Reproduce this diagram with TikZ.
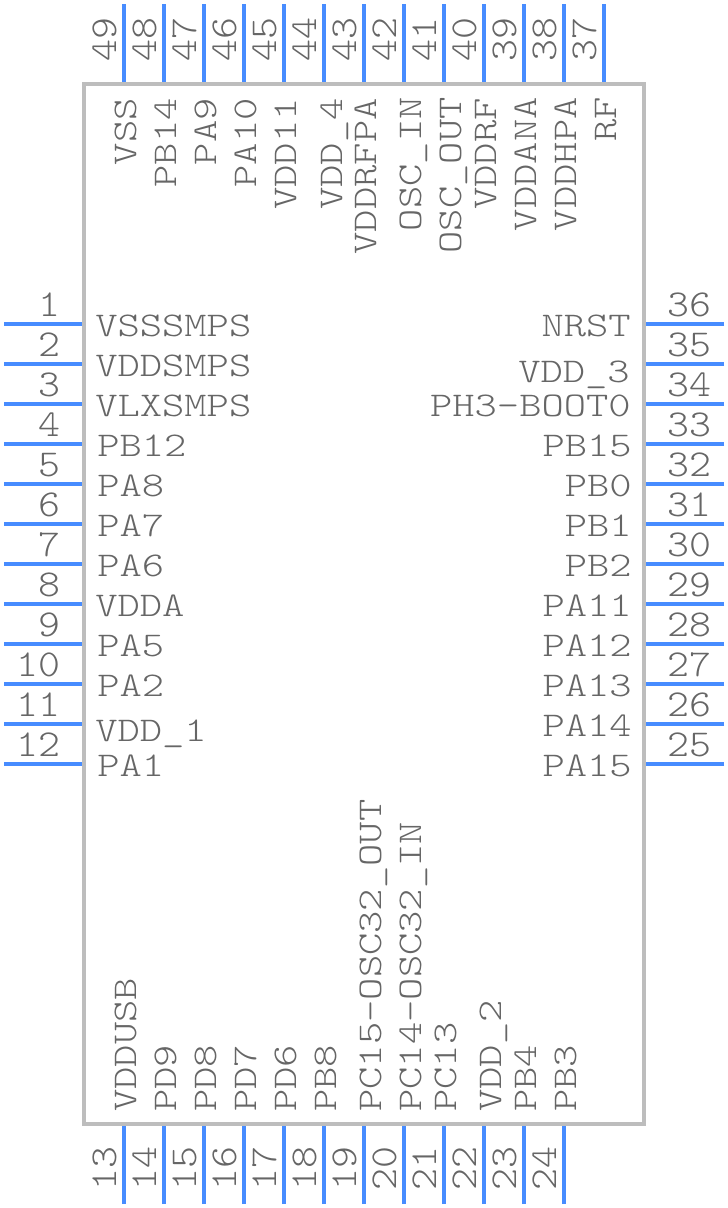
\documentclass[tikz,border=0pt]{standalone}
\usepackage{fontspec}
\newfontfamily\pinfont[FakeStretch=1.225]{Latin Modern Mono Light}
\newfontfamily\numfont[FakeStretch=1.10]{Latin Modern Mono Light}
\definecolor{pinblue}{HTML}{478CFF}
\definecolor{bodygray}{HTML}{BDBDBD}
\definecolor{textgray}{HTML}{666666}
\tikzset{
  pin/.style={draw=pinblue, line width=3pt},
  body/.style={draw=bodygray, line width=3pt},
  txt/.style={inner sep=0pt, text=textgray, font=\pinfont\fontsize{26}{26}\selectfont},
  num/.style={txt, font=\numfont\fontsize{28.5}{28.5}\selectfont},
  rowW/.style={txt, anchor=base west},
  rowE/.style={txt, anchor=base east},
  colT/.style={txt, rotate=90, anchor=base east},
  colB/.style={txt, rotate=90, anchor=base west}
}
\begin{document}
\begin{tikzpicture}[x=0.75pt, y=-0.75pt]
    \useasboundingbox (0, 0) rectangle (728, 1208);

    \draw[body] (84, 84) rectangle (644, 1124);

    % left side, 1 to 12
    \foreach \n in {1, 2,..., 12}{
      \pgfmathsetmacro{\yy}{324 + 40*(\n - 1)}
      \coordinate (pa\n) at (4, \yy);
      \coordinate (pb\n) at (82, \yy);
      \draw[pin] (pa\n) -- (pb\n);
      \node[num, anchor=base east] (num\n) at (61, \yy - 8) {\n};
    }
    % bottom side, 13 to 24
    \foreach \n in {13, 14,..., 24}{
      \pgfmathsetmacro{\xx}{124 + 40*(\n - 13)}
      \coordinate (pa\n) at (\xx, 1204);
      \coordinate (pb\n) at (\xx, 1126);
      \draw[pin] (pa\n) -- (pb\n);
      \node[num, rotate=90, anchor=base west] (num\n) at (\xx - 8, 1191) {\n};
    }
    % right side, 25 to 36
    \foreach \n in {25, 26,..., 36}{
      \pgfmathsetmacro{\yy}{764 - 40*(\n - 25)}
      \coordinate (pa\n) at (724, \yy);
      \coordinate (pb\n) at (646, \yy);
      \draw[pin] (pa\n) -- (pb\n);
      \node[num, anchor=base east] (num\n) at (712, \yy - 8) {\n};
    }
    % top side, 37 to 49
    \foreach \n in {37, 38,..., 49}{
      \pgfmathsetmacro{\xx}{604 - 40*(\n - 37)}
      \coordinate (pa\n) at (\xx, 4);
      \coordinate (pb\n) at (\xx, 82);
      \draw[pin] (pa\n) -- (pb\n);
      \node[num, rotate=90, anchor=base east] (num\n) at (\xx - 8, 17) {\n};
    }

    % left names
    \node[rowW] (vsssmps) at (95, 336) {VSSSMPS};
    \node[rowW] (vddsmps) at (95, 376) {VDDSMPS};
    \node[rowW] (vlxsmps) at (95, 416) {VLXSMPS};
    \node[rowW] (pb12) at (97, 456) {PB12};
    \node[rowW] (pa8) at (97, 496) {PA8};
    \node[rowW] (pa7) at (97, 536) {PA7};
    \node[rowW] (pa6) at (97, 576) {PA6};
    \node[rowW] (vdda) at (95, 616) {VDDA};
    \node[rowW] (pa5) at (97, 656) {PA5};
    \node[rowW] (pa2) at (97, 696) {PA2};
    \node[rowW] (vdd1) at (95, 741) {VDD\_1};
    \node[rowW] (pa1) at (97, 776) {PA1};

    % right names
    \node[rowE] (nrst) at (631, 336) {NRST};
    \node[rowE] (vdd3) at (630, 382) {VDD\_3};
    \node[rowE] (boot) at (631, 416) {PH3-BOOT0};
    \node[rowE] (pb15) at (632, 456) {PB15};
    \node[rowE] (pb0) at (632, 496) {PB0};
    \node[rowE] (pb1) at (632, 536) {PB1};
    \node[rowE] (pb2) at (632, 576) {PB2};
    \node[rowE] (pa11) at (632, 616) {PA11};
    \node[rowE] (pa12) at (632, 656) {PA12};
    \node[rowE] (pa13) at (632, 696) {PA13};
    \node[rowE] (pa14) at (632, 736) {PA14};
    \node[rowE] (pa15) at (632, 776) {PA15};

    % top names
    \node[colT] (vss) at (136, 98) {VSS};
    \node[colT] (pb14) at (176, 98) {PB14};
    \node[colT] (pa9) at (216, 98) {PA9};
    \node[colT] (pa10) at (256, 98) {PA10};
    \node[colT] (vdd11) at (296, 98) {VDD11};
    \node[colT] (vdd4) at (342, 98) {VDD\_4};
    \node[colT] (vddrfpa) at (376, 98) {VDDRFPA};
    \node[colT] (oscin) at (421, 97) {OSC\_IN};
    \node[colT] (oscout) at (461, 97) {OSC\_OUT};
    \node[colT] (vddrf) at (496, 98) {VDDRF};
    \node[colT] (vddana) at (536, 97) {VDDANA};
    \node[colT] (vddhpa) at (576, 97) {VDDHPA};
    \node[colT] (rf) at (616, 97) {RF};

    % bottom names
    \node[colB] (vddusb) at (136, 1112) {VDDUSB};
    \node[colB] (pd9) at (176, 1112) {PD9};
    \node[colB] (pd8) at (216, 1112) {PD8};
    \node[colB] (pd7) at (256, 1112) {PD7};
    \node[colB] (pd6) at (296, 1112) {PD6};
    \node[colB] (pb8) at (336, 1112) {PB8};
    \node[colB] (pc15) at (381, 1112) {PC15-OSC32\_OUT};
    \node[colB] (pc14) at (421, 1112) {PC14-OSC32\_IN};
    \node[colB] (pc13) at (456, 1112) {PC13};
    \node[colB] (vdd2) at (501, 1112) {VDD\_2};
    \node[colB] (pb4) at (536, 1112) {PB4};
    \node[colB] (pb3) at (576, 1112) {PB3};
\end{tikzpicture}
\end{document}
